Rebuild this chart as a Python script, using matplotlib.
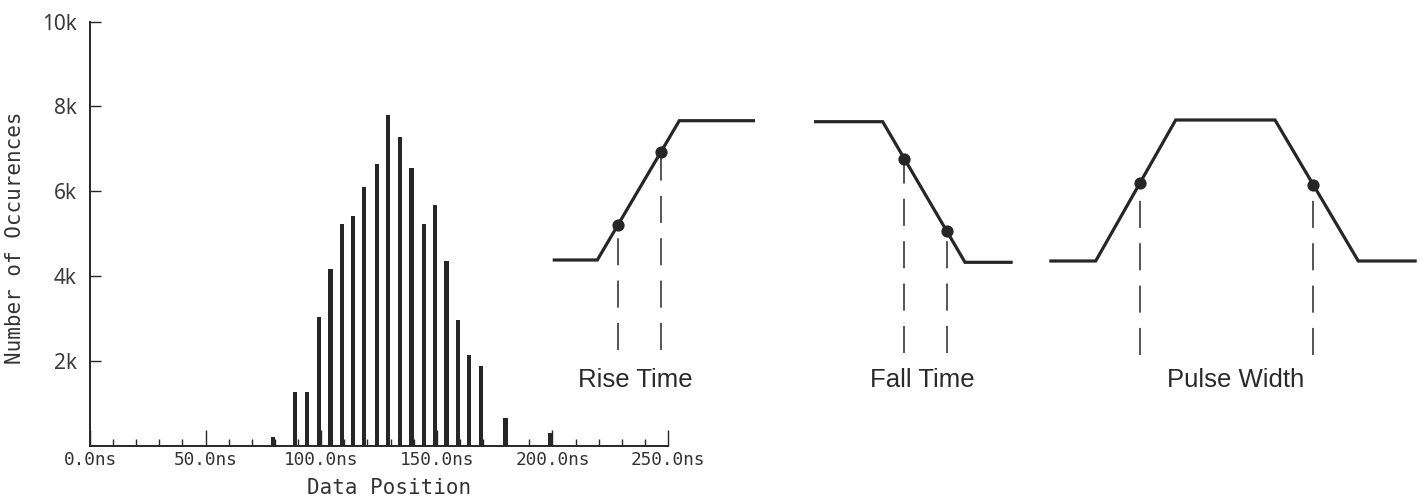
import numpy as np
import matplotlib
matplotlib.use("Agg")
import matplotlib.pyplot as plt

# ---------------- data ----------------
# histogram: bin position (ns) and occurrences
bin_pos = [79.2, 88.7, 93.8, 99.1, 104.0, 108.9, 113.8, 118.6, 124.2, 129.0,
           134.0, 139.0, 144.5, 149.2, 154.2, 159.2, 164.0, 169.0, 179.7, 198.9]
counts = [205, 1260, 1260, 3030, 4170, 5240, 5410, 6110, 6650, 7800,
          7270, 6560, 5240, 5680, 4360, 2960, 2150, 1890, 650, 290]

x_major = [0, 50, 100, 150, 200, 250]
x_major_labels = ["0.0ns", "50.0ns", "100.0ns", "150.0ns", "200.0ns", "250.0ns"]
x_minor = list(range(0, 251, 10))
y_ticks = [2000, 4000, 6000, 8000, 10000]
y_tick_labels = ["2k", "4k", "6k", "8k", "10k"]

# schematic waveforms (diagram coordinates, y downwards)
rise_x = [552.7, 597.3, 679.3, 755.0]
rise_y = [260.0, 260.0, 120.7, 120.7]
rise_marks = [617.7, 661.0]
rise_drop = 350.0

fall_x = [814.0, 882.7, 965.0, 1012.7]
fall_y = [121.7, 121.7, 262.3, 262.3]
fall_marks = [904.3, 946.7]
fall_drop = 353.0

pulse_x = [1049.3, 1095.7, 1175.7, 1275.0, 1358.3, 1416.7]
pulse_y = [261.0, 261.0, 120.0, 120.0, 261.0, 261.0]
pulse_marks = [1140.0, 1313.3]
pulse_drop = 355.0

captions = ["Rise Time", "Fall Time", "Pulse Width"]
caption_x = [635.0, 922.5, 1235.8]
caption_y = [387.0, 387.0, 386.5]

# ---------------- figure ----------------
W, H = 1424, 498
fig = plt.figure(figsize=(W / 100, H / 100), dpi=100)
fig.patch.set_facecolor("white")
plt.rcParams["lines.scale_dashes"] = False

ink = "#262626"
mono = "DejaVu Sans Mono"

L, R, B, T = 90, 668, 445.7, 21.7
ax = fig.add_axes([L / W, 1 - B / H, (R - L) / W, (B - T) / H])
ax.bar(bin_pos, counts, width=1.9, color=ink, edgecolor="none")
ax.set_xlim(0, 250)
ax.set_ylim(0, 10000)
for s in ("top", "right"):
    ax.spines[s].set_visible(False)
for s in ("left", "bottom"):
    ax.spines[s].set_linewidth(1.4)
    ax.spines[s].set_color(ink)

ax.set_xticks(x_major)
ax.set_xticklabels(x_major_labels, family=mono, fontsize=12.8, color="#333333")
ax.set_xticks(x_minor, minor=True)
ax.tick_params(axis="x", which="major", direction="in", length=11.5, width=1.0,
               color=ink, pad=4)
ax.tick_params(axis="x", which="minor", direction="in", length=5, width=1.0,
               color=ink)
ax.set_yticks(y_ticks)
ax.set_yticklabels(y_tick_labels, family="Noto Sans", fontsize=15, color="#3a3a3a")
ax.tick_params(axis="y", which="major", direction="in", length=8, width=1.0,
               color=ink, pad=9.5)
ax.patch.set_alpha(0)

fig.text(389 / W, 1 - 488 / H, "Data Position", family=mono, fontsize=15,
         color="#333333", ha="center", va="center")
fig.text(15 / W, 1 - 238 / H, "Number of Occurences", family=mono, fontsize=15,
         color="#333333", ha="center", va="center", rotation=90)

# overlay for the schematic waveforms
dx = fig.add_axes([0, 0, 1, 1])
dx.set_xlim(0, W)
dx.set_ylim(H, 0)
dx.axis("off")
dx.patch.set_alpha(0)


def waveform(xs, ys, marks, drop):
    dx.plot(xs, ys, color=ink, lw=2.3, solid_joinstyle="miter", solid_capstyle="butt")
    for m in marks:
        my = np.interp(m, xs, ys)
        dx.plot([m, m], [drop, my], color=ink, lw=1.1, dashes=(19.5, 11.0))
        dx.plot([m], [my], "o", color=ink, ms=8.8, mew=0)


waveform(rise_x, rise_y, rise_marks, rise_drop)
waveform(fall_x, fall_y, fall_marks, fall_drop)
waveform(pulse_x, pulse_y, pulse_marks, pulse_drop)

for txt, cx, cy in zip(captions, caption_x, caption_y):
    dx.text(cx, cy, txt, family="Liberation Sans", fontsize=18.5, color="#2a2a2a",
            ha="center", va="baseline")

fig.savefig("out.png", dpi=100, facecolor="white")
